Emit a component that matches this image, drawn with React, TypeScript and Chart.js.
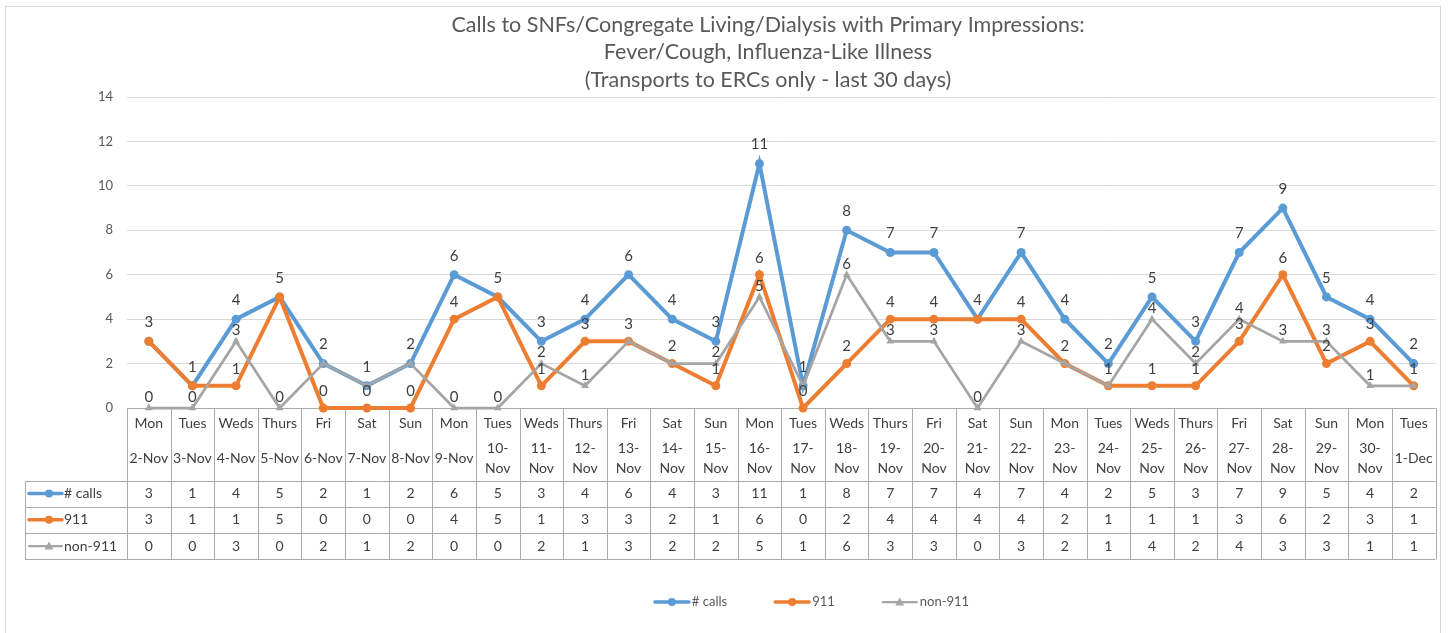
import React, { useEffect, useRef } from "react";
import { Chart, registerables } from "chart.js";

Chart.register(...registerables);

const dayNames = ["Mon", "Tues", "Weds", "Thurs", "Fri", "Sat", "Sun", "Mon", "Tues", "Weds", "Thurs", "Fri", "Sat", "Sun", "Mon", "Tues", "Weds", "Thurs", "Fri", "Sat", "Sun", "Mon", "Tues", "Weds", "Thurs", "Fri", "Sat", "Sun", "Mon", "Tues"];
const dateLabels = ["2-Nov", "3-Nov", "4-Nov", "5-Nov", "6-Nov", "7-Nov", "8-Nov", "9-Nov", "10-Nov", "11-Nov", "12-Nov", "13-Nov", "14-Nov", "15-Nov", "16-Nov", "17-Nov", "18-Nov", "19-Nov", "20-Nov", "21-Nov", "22-Nov", "23-Nov", "24-Nov", "25-Nov", "26-Nov", "27-Nov", "28-Nov", "29-Nov", "30-Nov", "1-Dec"];
const callsData = [3, 1, 4, 5, 2, 1, 2, 6, 5, 3, 4, 6, 4, 3, 11, 1, 8, 7, 7, 4, 7, 4, 2, 5, 3, 7, 9, 5, 4, 2];
const data911 = [3, 1, 1, 5, 0, 0, 0, 4, 5, 1, 3, 3, 2, 1, 6, 0, 2, 4, 4, 4, 4, 2, 1, 1, 1, 3, 6, 2, 3, 1];
const dataNon911 = [0, 0, 3, 0, 2, 1, 2, 0, 0, 2, 1, 3, 2, 2, 5, 1, 6, 3, 3, 0, 3, 2, 1, 4, 2, 4, 3, 3, 1, 1];
const seriesLabels = ["# calls", "911", "non-911"];
const titleLines = [
  "Calls to SNFs/Congregate Living/Dialysis with Primary Impressions:",
  "Fever/Cough, Influenza-Like Illness",
  "(Transports to ERCs only - last 30 days)",
];
const yMin = 0;
const yMax = 14;
const yStep = 2;

const COLORS = ["#5B9BD5", "#ED7D31", "#A5A5A5"];
const MARKERS = ["circle", "circle", "triangle"];
const LINE_W = [4, 4, 2.75];
const FONT = "Lato, 'Open Sans', sans-serif";
const TEXT = "#404040";
const MUTED = "#595959";
const TABLE_LINE = "#ababab";
const LABEL_POS = [
  { dx: 0, dy: -19, align: "center" },
  { dx: 0, dy: -17, align: "center" },
  { dx: 0, dy: -11, align: "center" },
];

function drawKey(ctx: CanvasRenderingContext2D, i: number, x0: number, x1: number, y: number, mx: number) {
  ctx.save();
  ctx.strokeStyle = COLORS[i];
  ctx.fillStyle = COLORS[i];
  ctx.lineWidth = LINE_W[i] - 0.5;
  ctx.lineCap = "round";
  ctx.beginPath();
  ctx.moveTo(x0, y);
  ctx.lineTo(x1, y);
  ctx.stroke();
  if (MARKERS[i] === "circle") {
    ctx.beginPath();
    ctx.arc(mx, y, 4, 0, Math.PI * 2);
    ctx.fill();
  } else {
    ctx.beginPath();
    ctx.moveTo(mx, y - 4.5);
    ctx.lineTo(mx + 4.5, y + 3.5);
    ctx.lineTo(mx - 4.5, y + 3.5);
    ctx.closePath();
    ctx.fill();
  }
  ctx.restore();
}

const seriesData = [callsData, data911, dataNon911];

const tablePlugin = {
  id: "dataTable",
  beforeDatasetsDraw(chart: any) {
    const { ctx, chartArea: ca, scales } = chart;
    const xs = scales.x;
    const n = dateLabels.length;
    const colW = (ca.right - ca.left) / n;
    const top = ca.bottom;
    const headH = 72.5;
    const rowH = 26.2;
    const tableLeft = 19;
    const bottom = top + headH + 3 * rowH;
    ctx.save();
    ctx.strokeStyle = TABLE_LINE;
    ctx.lineWidth = 1;
    const line = (x0: number, y0: number, x1: number, y1: number) => {
      ctx.beginPath();
      ctx.moveTo(x0, y0);
      ctx.lineTo(x1, y1);
      ctx.stroke();
    };
    for (let i = 0; i <= n; i++) {
      const x = Math.round(ca.left + i * colW) + 0.5;
      line(x, top, x, bottom);
    }
    line(ca.left, Math.round(top) + 0.5, ca.right, Math.round(top) + 0.5);
    for (let r = 0; r <= 3; r++) {
      const y = Math.round(top + headH + r * rowH) + 0.5;
      line(tableLeft, y, ca.right, y);
    }
    line(tableLeft + 0.5, Math.round(top + headH), tableLeft + 0.5, Math.round(bottom) + 1);

    ctx.fillStyle = TEXT;
    ctx.font = `14px ${FONT}`;
    ctx.textAlign = "center";
    ctx.textBaseline = "middle";
    for (let i = 0; i < n; i++) {
      const cx = xs.getPixelForValue(i);
      ctx.fillText(dayNames[i], cx, top + 15);
      const d = dateLabels[i];
      if (ctx.measureText(d).width > colW - 3) {
        const k = d.indexOf("-");
        ctx.fillText(d.slice(0, k + 1), cx, top + 40);
        ctx.fillText(d.slice(k + 1), cx, top + 60);
      } else {
        ctx.fillText(d, cx, top + 50);
      }
    }
    for (let r = 0; r < 3; r++) {
      const y = top + headH + (r + 0.5) * rowH;
      drawKey(ctx, r, tableLeft + 4, tableLeft + 37, y, tableLeft + 24);
      ctx.fillStyle = TEXT;
      ctx.textAlign = "left";
      ctx.fillText(seriesLabels[r], tableLeft + 39, y);
      ctx.textAlign = "center";
      for (let i = 0; i < n; i++) {
        ctx.fillText(String(seriesData[r][i]), xs.getPixelForValue(i), y);
      }
    }
    ctx.restore();
  },
  afterDatasetsDraw(chart: any) {
    const { ctx } = chart;
    ctx.save();
    ctx.font = `15px ${FONT}`;
    ctx.fillStyle = TEXT;
    ctx.textBaseline = "middle";
    const datasets = chart.data.datasets;
    datasets.forEach((ds: any, di: number) => {
      const meta = chart.getDatasetMeta(di);
      const p = LABEL_POS[di];
      ctx.textAlign = p.align;
      meta.data.forEach((pt: any, i: number) => {
        let dup = false;
        for (let k = 0; k < di; k++) if (datasets[k].data[i] === ds.data[i]) dup = true;
        if (dup) return;
        ctx.fillText(String(ds.data[i]), pt.x + p.dx, pt.y + p.dy);
      });
    });
    ctx.restore();
  },
  afterDraw(chart: any) {
    const { ctx } = chart;
    ctx.save();
    ctx.font = `13px ${FONT}`;
    ctx.fillStyle = MUTED;
    ctx.textBaseline = "middle";
    ctx.textAlign = "left";
    const keyW = 34;
    const gap = 48;
    const widths = seriesLabels.map((l) => keyW + 3 + ctx.measureText(l).width);
    const total = widths.reduce((a, b) => a + b, 0) + gap * (widths.length - 1);
    let x = 806 - total / 2;
    const y = 595;
    seriesLabels.forEach((l, i) => {
      drawKey(ctx, i, x, x + keyW, y, x + keyW / 2);
      ctx.fillStyle = MUTED;
      ctx.fillText(l, x + keyW + 3, y);
      x += widths[i] + gap;
    });
    ctx.restore();
  },
};

export default function App() {
  const ref = useRef<HTMLCanvasElement | null>(null);
  useEffect(() => {
    if (!ref.current) return;
    const chart = new Chart(ref.current, {
      type: "line",
      data: {
        labels: dateLabels,
        datasets: seriesLabels.map((label, i) => ({
          label,
          data: seriesData[i],
          borderColor: COLORS[i],
          backgroundColor: COLORS[i],
          borderWidth: LINE_W[i],
          pointStyle: MARKERS[i] as any,
          pointRadius: i === 2 ? 4.5 : 4.5,
          pointBorderWidth: 0,
          pointBackgroundColor: COLORS[i],
          tension: 0,
          clip: false as any,
          order: 2 - i,
        })),
      },
      options: {
        animation: false,
        responsive: false,
        layout: { padding: { left: 93, right: 3, top: 0, bottom: 0 } },
        plugins: {
          legend: { display: false },
          tooltip: { enabled: false },
          title: {
            display: true,
            text: titleLines,
            color: MUTED,
            font: { family: FONT, size: 21.5, weight: "normal", lineHeight: "27.5px" } as any,
            padding: { top: 4, bottom: 3.5 },
          },
        },
        scales: {
          x: {
            type: "category",
            offset: true,
            ticks: { display: false },
            grid: { display: false },
            border: { display: false },
            afterFit: (s: any) => {
              s.height = 225;
            },
          },
          y: {
            min: yMin,
            max: yMax,
            ticks: { stepSize: yStep, color: MUTED, padding: 14, font: { family: FONT, size: 13 } },
            grid: { color: "#d9d9d9", drawTicks: false },
            border: { display: false },
            afterFit: (s: any) => {
              s.width = 28;
            },
          },
        },
      },
      plugins: [tablePlugin],
    });
    return () => chart.destroy();
  }, []);
  return (
    <div
      style={{
        position: "absolute",
        left: 5,
        top: 6,
        width: 1434,
        height: 626,
        border: "1px solid #d9d9d9",
        background: "#fff",
      }}
    >
      <canvas ref={ref} width={1434} height={626} style={{ display: "block" }} />
    </div>
  );
}
